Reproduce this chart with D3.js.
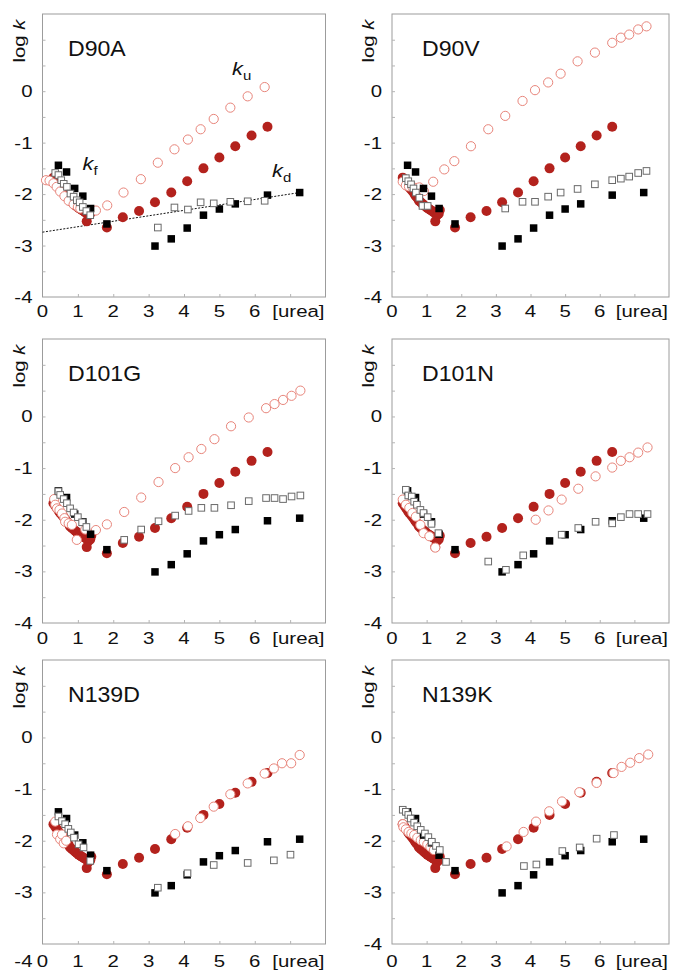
<!DOCTYPE html>
<html>
<head>
<meta charset="utf-8">
<script src="https://cdn.jsdelivr.net/npm/d3@7"></script>
<style>
  html, body { margin: 0; padding: 0; background: #fff; }
  svg { display: block; }
  text { font-family: "Liberation Sans", Arial, Helvetica, sans-serif; fill: #111; }
</style>
</head>
<body>
<script>
// ---------------- DATA ----------------
const mutants = ["D90A", "D90V", "D101G", "D101N", "N139D", "N139K"];
const xTickLabels = ["0", "1", "2", "3", "4", "5", "6"];
const yTickLabels = [-4, -3, -2, -1, 0];
const xLabel = "[urea]";

// wild-type reference, shown in every panel
const wtCircX = [0.31,0.36,0.41,0.46,0.50,0.55,0.60,0.65,0.69,0.74,0.78,0.83,0.88,0.93,0.97,1.02,1.07,1.11,1.16,1.20,1.25,1.30,1.35,1.38,1.25,
                 1.82,2.27,2.73,3.18,3.64,4.09,4.55,5.00,5.45,5.91,6.36];
const wtCircY = [-1.68,-1.73,-1.78,-1.83,-1.87,-1.91,-1.95,-2.00,-2.04,-2.08,-2.13,-2.16,-2.19,-2.22,-2.24,-2.27,-2.29,-2.31,-2.33,-2.35,-2.37,-2.41,-2.38,-2.31,-2.53,
                 -2.65,-2.45,-2.33,-2.16,-1.97,-1.75,-1.50,-1.29,-1.07,-0.86,-0.69];
const wtSqX = [0.45,0.68,0.91,1.14,1.36,1.82,3.18,3.64,4.09,4.55,5.00,5.45,6.36,7.27];
const wtSqY = [-1.44,-1.57,-1.89,-2.04,-2.28,-2.58,-3.01,-2.87,-2.66,-2.41,-2.29,-2.19,-2.02,-1.97];

// mutant data: open circles (k_f / k_u), open squares (k_d)
const d90aCircX = [0.10,0.20,0.31,0.40,0.50,0.62,0.74,0.88,1.00,1.07,1.51,1.83,2.29,2.78,3.26,3.73,4.11,4.47,4.84,5.31,5.80,6.28];
const d90aCircY = [-1.73,-1.74,-1.79,-1.86,-1.95,-2.04,-2.13,-2.20,-2.25,-2.28,-2.32,-2.22,-1.97,-1.71,-1.39,-1.13,-0.94,-0.74,-0.54,-0.32,-0.10,0.08];
const d90aSqX = [0.36,0.45,0.53,0.60,0.69,0.79,0.88,0.97,1.05,1.14,1.24,1.35,3.26,3.73,4.11,4.47,4.84,5.31,5.80,6.28];
const d90aSqY = [-1.59,-1.63,-1.73,-1.80,-1.86,-1.99,-2.05,-2.12,-2.16,-2.25,-2.33,-2.41,-2.65,-2.26,-2.30,-2.16,-2.18,-2.15,-2.14,-2.13];

const d90vCircX = [0.31,0.40,0.49,0.59,0.69,0.79,0.92,1.19,1.51,1.80,2.28,2.78,3.27,3.77,4.13,4.51,4.87,5.36,5.86,6.36,6.61,6.85,7.11,7.35];
const d90vCircY = [-1.76,-1.83,-1.85,-1.86,-1.88,-1.87,-1.94,-1.76,-1.52,-1.36,-1.07,-0.74,-0.48,-0.19,0.02,0.17,0.34,0.58,0.75,0.94,1.04,1.10,1.20,1.26];
const d90vSqX = [0.40,0.47,0.55,0.62,0.69,0.79,0.88,1.03,3.27,3.77,4.13,4.51,4.87,5.36,5.86,6.36,6.61,6.85,7.11,7.35];
const d90vSqY = [-1.69,-1.75,-1.81,-1.89,-1.97,-2.07,-2.23,-2.23,-2.28,-2.15,-2.15,-2.05,-1.97,-1.90,-1.81,-1.73,-1.70,-1.66,-1.59,-1.55];

const d101gCircX = [0.33,0.36,0.41,0.48,0.55,0.62,0.64,0.74,0.83,0.97,1.21,1.51,1.82,2.31,2.79,3.28,3.75,4.13,4.49,4.86,5.33,5.83,6.32,6.56,6.80,7.04,7.29];
const d101gCircY = [-1.60,-1.71,-1.78,-1.81,-1.88,-1.97,-2.04,-2.07,-2.10,-2.39,-2.19,-2.20,-2.09,-1.85,-1.57,-1.27,-1.00,-0.79,-0.63,-0.44,-0.19,-0.02,0.16,0.24,0.32,0.40,0.50];
const d101gSqX = [0.45,0.50,0.60,0.69,0.78,0.88,1.00,1.12,1.24,2.31,2.79,3.28,3.75,4.13,4.49,4.86,5.33,5.83,6.32,6.56,6.80,7.04,7.29];
const d101gSqY = [-1.45,-1.52,-1.60,-1.68,-1.78,-1.86,-1.95,-2.05,-2.14,-2.39,-2.19,-2.03,-1.92,-1.83,-1.77,-1.77,-1.72,-1.64,-1.58,-1.58,-1.60,-1.55,-1.53];

const d101nCircX = [0.31,0.40,0.50,0.59,0.69,0.82,0.91,1.08,1.25,4.15,4.52,4.90,5.38,5.88,6.36,6.61,6.86,7.11,7.38];
const d101nCircY = [-1.61,-1.71,-1.77,-1.87,-1.94,-2.10,-2.26,-2.32,-2.54,-2.00,-1.82,-1.61,-1.40,-1.16,-0.99,-0.86,-0.79,-0.70,-0.60];
const d101nSqX = [0.40,0.47,0.57,0.64,0.72,0.82,0.91,1.03,1.14,1.34,2.78,3.29,3.79,4.90,5.38,5.88,6.36,6.61,6.86,7.11,7.38];
const d101nSqY = [-1.42,-1.53,-1.55,-1.65,-1.71,-1.81,-1.87,-1.95,-2.08,-2.26,-2.81,-2.97,-2.69,-2.29,-2.16,-2.04,-2.07,-1.95,-1.89,-1.89,-1.89];

const n139dCircX = [0.36,0.41,0.50,0.55,0.60,0.67,3.75,4.11,4.46,4.84,5.31,5.80,6.28,6.54,6.77,7.03,7.27];
const n139dCircY = [-1.63,-1.88,-1.97,-1.88,-2.05,-2.00,-1.87,-1.72,-1.56,-1.34,-1.10,-0.89,-0.70,-0.60,-0.50,-0.50,-0.34];
const n139dSqX = [0.45,0.55,0.64,0.73,0.80,0.89,1.02,1.16,1.35,3.26,4.10,4.84,5.80,6.54,7.01];
const n139dSqY = [-1.53,-1.62,-1.68,-1.77,-1.84,-1.94,-2.07,-2.13,-2.39,-2.91,-2.63,-2.47,-2.43,-2.38,-2.27];

const n139kCircX = [0.31,0.33,0.40,0.48,0.56,0.64,0.73,0.83,0.92,1.02,1.11,1.21,3.31,3.80,4.16,4.54,4.91,5.41,5.91,6.40,6.63,6.88,7.14,7.40];
const n139kCircY = [-1.68,-1.74,-1.78,-1.83,-1.86,-1.89,-1.94,-1.99,-2.02,-2.07,-2.12,-2.18,-2.11,-1.83,-1.63,-1.43,-1.24,-1.06,-0.88,-0.69,-0.57,-0.49,-0.40,-0.33];
const n139kSqX = [0.31,0.40,0.47,0.54,0.64,0.73,0.83,0.95,1.05,1.15,1.27,1.38,1.56,3.81,4.17,4.92,5.42,5.91,6.41];
const n139kSqY = [-1.40,-1.44,-1.50,-1.57,-1.65,-1.72,-1.79,-1.86,-1.93,-2.02,-2.10,-2.18,-2.41,-2.49,-2.46,-2.20,-2.13,-1.96,-1.89];

// dotted k_d trend line in the D90A panel
const kdFitX = [0, 7.27];
const kdFitY = [-2.74, -1.97];

const mutCircX = [d90aCircX, d90vCircX, d101gCircX, d101nCircX, n139dCircX, n139kCircX];
const mutCircY = [d90aCircY, d90vCircY, d101gCircY, d101nCircY, n139dCircY, n139kCircY];
const mutSqX = [d90aSqX, d90vSqX, d101gSqX, d101nSqX, n139dSqX, n139kSqX];
const mutSqY = [d90aSqY, d90vSqY, d101gSqY, d101nSqY, n139dSqY, n139kSqY];

// ---------------- LAYOUT ----------------
const W = 675, H = 970;
const colX = [[42.5, 325.5], [392, 669]];
const rowY = [[14, 297], [339, 623], [660, 944]];
const xLabOff = [20, 21, 23];
const SX = 1.2; // horizontal stretch of the original lettering

const RED = "#b3221d", PINK = "#e8857b", GREY = "#6a6a6a", FRAME = "#9c9c9c", TICK = "#b4b4b4";

const svg = d3.select("body").append("svg").attr("width", W).attr("height", H);

function stext(g, x, y, str, size, anchor, sx) {
  return g.append("text")
    .attr("transform", `translate(${x},${y}) scale(${sx},1)`)
    .attr("text-anchor", anchor)
    .attr("font-size", size)
    .text(str);
}

mutants.forEach((name, i) => {
  const col = i % 2, row = Math.floor(i / 2);
  const [x0, x1] = colX[col];
  const [y0, y1] = rowY[row];
  const x = d3.scaleLinear().domain([0, 8]).range([x0, x1]);
  const y = d3.scaleLinear().domain([-4, 1.5]).range([y1, y0]);
  const g = svg.append("g");

  // frame
  g.append("rect").attr("x", x0).attr("y", y0).attr("width", x1 - x0).attr("height", y1 - y0)
    .attr("fill", "none").attr("stroke", FRAME).attr("stroke-width", 1);

  // inward ticks via d3 axes
  const yAxis = d3.axisRight(y).tickValues(d3.range(-3.5, 1.5, 0.5)).tickSize(3).tickFormat("");
  const ya = g.append("g").attr("transform", `translate(${x0},0)`).call(yAxis);
  const xAxis = d3.axisTop(x).tickValues(d3.range(1, 8, 1)).tickSize(3).tickFormat("");
  const xa = g.append("g").attr("transform", `translate(0,${y1})`).call(xAxis);
  [ya, xa].forEach(a => { a.select(".domain").remove(); a.selectAll("line").attr("stroke", TICK); });

  // y tick labels
  yTickLabels.forEach(v => {
    let ty = y(v) + 6;
    if (i === 4 && v === -4) ty = y1 + xLabOff[row];
    stext(g, x0 - 10, ty, String(v), 17, "end", SX);
  });
  // x tick labels
  xTickLabels.forEach((t, k) => stext(g, x(+t), y1 + xLabOff[row], t, 17, "middle", SX));
  stext(g, x1 - 1, y1 + xLabOff[row], xLabel, 17, "end", SX);

  // y axis title "log k"
  const lt = g.append("text")
    .attr("transform", `translate(${x0 - 18},${y0 + 27}) rotate(-90) scale(${SX},1)`)
    .attr("text-anchor", "middle").attr("font-size", 17);
  lt.append("tspan").text("log ");
  lt.append("tspan").attr("font-style", "italic").text("k");

  // panel title
  stext(g, x0 + (col === 0 ? 25.5 : 30), y0 + 42, name, 22, "start", 1.05);

  // trend line + annotations in first panel
  if (i === 0) {
    g.append("line")
      .attr("x1", x(kdFitX[0])).attr("y1", y(kdFitY[0]))
      .attr("x2", x(kdFitX[1])).attr("y2", y(kdFitY[1]))
      .attr("stroke", "#111").attr("stroke-width", 1).attr("stroke-dasharray", "2,1.5");
    const ann = [["u", 232, 75], ["f", 82.5, 170], ["d", 272, 177]];
    ann.forEach(([sub, ax, ay]) => {
      const t = g.append("text").attr("transform", `translate(${ax},${ay}) scale(1.15,1)`).attr("font-size", 19);
      t.append("tspan").attr("font-style", "italic").text("k");
      t.append("tspan").attr("font-size", 13).attr("dy", 5).text(sub);
    });
  }

  // marks
  const cw = d3.zip(wtCircX, wtCircY);
  const cm = d3.zip(mutCircX[i], mutCircY[i]);
  const sw = d3.zip(wtSqX, wtSqY);
  const sm = d3.zip(mutSqX[i], mutSqY[i]);

  g.append("g").selectAll("circle").data(cw).join("circle")
    .attr("cx", d => x(d[0])).attr("cy", d => y(d[1])).attr("r", 5)
    .attr("fill", RED);
  g.append("g").selectAll("circle").data(cm).join("circle")
    .attr("cx", d => x(d[0])).attr("cy", d => y(d[1])).attr("r", 4.6)
    .attr("fill", "#fff").attr("stroke", PINK).attr("stroke-width", 1);
  const s1 = 7.5;
  g.append("g").selectAll("rect").data(sw).join("rect")
    .attr("x", d => x(d[0]) - s1 / 2).attr("y", d => y(d[1]) - s1 / 2)
    .attr("width", s1).attr("height", s1).attr("fill", "#000");
  const s2 = 6.6;
  g.append("g").selectAll("rect").data(sm).join("rect")
    .attr("x", d => x(d[0]) - s2 / 2).attr("y", d => y(d[1]) - s2 / 2)
    .attr("width", s2).attr("height", s2)
    .attr("fill", "#fff").attr("stroke", GREY).attr("stroke-width", 1);
});
</script>
</body>
</html>
